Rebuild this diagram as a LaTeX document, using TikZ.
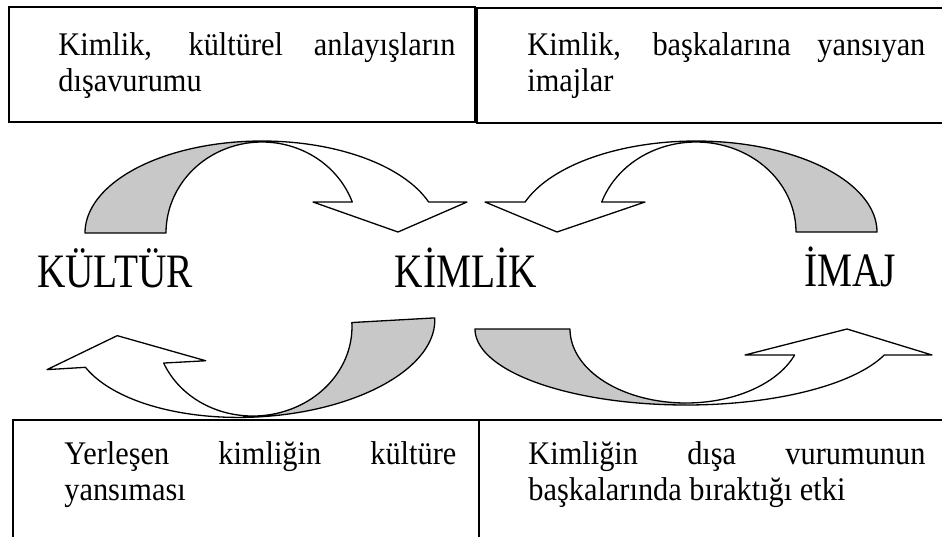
\documentclass[tikz,border=0pt]{standalone}
\usepackage{fontspec}
\setmainfont{Liberation Serif}
\usepackage{graphicx}
\definecolor{bandgray}{RGB}{200,200,200}
\newcommand{\sqz}[1]{\scalebox{0.92}[1]{#1}}
\newcommand{\sqbig}[1]{\scalebox{0.82}[1]{#1}}
\begin{document}
\begin{tikzpicture}[x=0.5pt,y=-0.5pt,samples=60,
  boxline/.style={line width=1.3pt},
  arrowline/.style={draw=black,line width=0.65pt,line join=round},
  gfill/.style={fill=bandgray},
  boxtext/.style={anchor=base west,inner sep=0pt,font=\fontsize{16.5}{20}\selectfont},
  bigword/.style={anchor=base,inner sep=0pt,font=\fontsize{24}{28}\selectfont}]
\useasboundingbox (0,0) rectangle (942,536);
\clip (0,0) rectangle (942,536);

% boxes
\draw[boxline] (9,7) rectangle (475,122);
\draw[boxline] (477,8) rectangle (946,123);
\draw[boxline] (13,420) rectangle (479,546);
\draw[boxline] (479,420) rectangle (946,546);

% box texts
\node[boxtext] (tl1) at (58,55) {\sqz{\makebox[215.8pt][s]{Kimlik, kültürel anlayışların}}};
\node[boxtext] (tl2) at (58,91) {\sqz{dışavurumu}};
\node[boxtext] (tr1) at (527,55) {\sqz{\makebox[216.3pt][s]{Kimlik, başkalarına yansıyan}}};
\node[boxtext] (tr2) at (527,91) {\sqz{imajlar}};
\node[boxtext] (bl1) at (64,464) {\sqz{\makebox[213pt][s]{Yerleşen kimliğin kültüre}}};
\node[boxtext] (bl2) at (64,500) {\sqz{yansıması}};
\node[boxtext] (br1) at (528,464) {\sqz{\makebox[215.8pt][s]{Kimliğin dışa vurumunun}}};
\node[boxtext] (br2) at (528,500) {\sqz{başkalarında bıraktığı etki}};

% big words
\node[bigword] (kultur) at (115,287) {\sqbig{KÜLTÜR}};
\node[bigword] (kimlik) at (466,287) {\sqbig{KİMLİK}};
\node[bigword] (imaj) at (850,286) {\sqbig{İMAJ}};

% top-left curved arrow
\fill[gfill] plot[domain=180:270] ({262+177*cos(\x)},{233+92*sin(\x)})
  -- plot[domain=270:180] ({262+96*cos(\x)},{233+91*sin(\x)}) -- cycle;
\draw[arrowline] plot[domain=180:340.3,samples=90] ({262+177*cos(\x)},{233+92*sin(\x)})
  -- (467,202) -- (398,232) -- (313,202)
  -- plot[domain=340.1:180,samples=90] ({262+96*cos(\x)},{233+91*sin(\x)}) -- cycle;

% top-right curved arrow
\fill[gfill] plot[domain=270:360] ({696+181*cos(\x)},{232+91*sin(\x)})
  -- plot[domain=360:270] ({696+100*cos(\x)},{232+90*sin(\x)}) -- cycle;
\draw[arrowline] plot[domain=360:199.25,samples=90] ({696+181*cos(\x)},{232+91*sin(\x)})
  -- (485,202) -- (557,232) -- (645,202)
  -- plot[domain=199.47:360,samples=90] ({696+100*cos(\x)},{232+90*sin(\x)}) -- cycle;

% bottom-left curved arrow (slightly tilted)
\begin{scope}[shift={(254,328)},rotate=3.2]
\fill[gfill] plot[domain=0:90] ({181*cos(\x)},{89*sin(\x)})
  -- plot[domain=90:0] ({98*cos(\x)},{88*sin(\x)}) -- cycle;
\draw[arrowline] plot[domain=0:160.4,samples=90] ({181*cos(\x)},{89*sin(\x)})
  -- (-209,30) -- (-137,0) -- (-50,30)
  -- plot[domain=160.1:0,samples=90] ({98*cos(\x)},{88*sin(\x)}) -- cycle;
\end{scope}

% bottom-right curved arrow
\fill[gfill] plot[domain=180:90] ({686+211*cos(\x)},{329+76*sin(\x)})
  -- plot[domain=90:180] ({686+116*cos(\x)},{329+74*sin(\x)}) -- cycle;
\draw[arrowline] plot[domain=180:20,samples=90] ({686+211*cos(\x)},{329+76*sin(\x)})
  -- (932,355) -- (847,329) -- (745,355)
  -- plot[domain=20.57:180,samples=90] ({686+116*cos(\x)},{329+74*sin(\x)}) -- cycle;
\end{tikzpicture}
\end{document}
